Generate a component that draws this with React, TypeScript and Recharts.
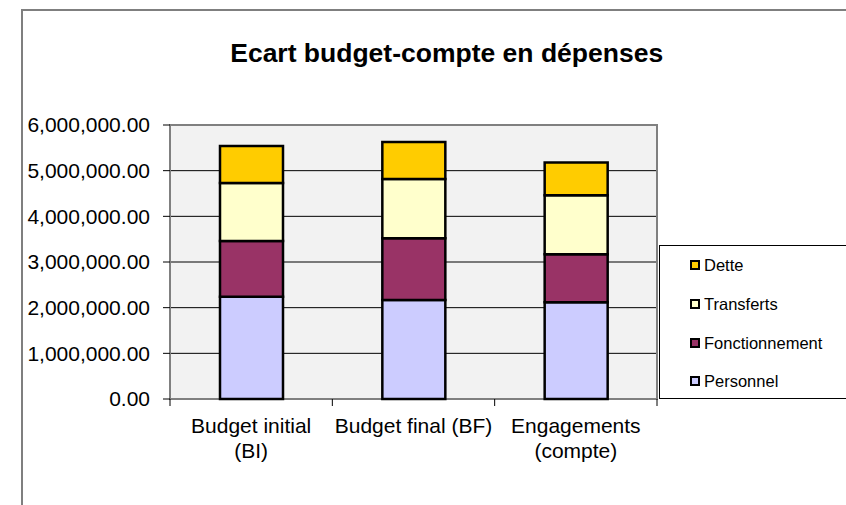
import React from "react";
import {
  BarChart,
  Bar,
  XAxis,
  YAxis,
  CartesianGrid,
  Legend,
  ReferenceArea,
} from "recharts";

const categories = ["Budget initial (BI)", "Budget final (BF)", "Engagements (compte)"];
const categoryLines = [["Budget initial", "(BI)"], ["Budget final (BF)"], ["Engagements", "(compte)"]];
const personnel = [2240000, 2170000, 2120000];
const fonctionnement = [1220000, 1350000, 1050000];
const transferts = [1270000, 1300000, 1290000];
const dette = [810000, 810000, 720000];
const yTicks = [0, 1000000, 2000000, 3000000, 4000000, 5000000, 6000000];

const title = "Ecart budget-compte en dépenses";

const series = [
  { key: "personnel", name: "Personnel", color: "#CCCCFF", values: personnel },
  { key: "fonctionnement", name: "Fonctionnement", color: "#993366", values: fonctionnement },
  { key: "transferts", name: "Transferts", color: "#FFFFCC", values: transferts },
  { key: "dette", name: "Dette", color: "#FFCC00", values: dette },
];

const data = categories.map((c, i) => {
  const row: Record<string, any> = { category: c };
  series.forEach((s) => {
    row[s.key] = s.values[i];
  });
  return row;
});

const FONT = "Arial, 'Liberation Sans', sans-serif";
const PLOT_LEFT = 170;
const PLOT_RIGHT = 657;
const PLOT_TOP = 125;
const PLOT_BOTTOM = 399;
const W = 846;
const H = 505;
const Y_AXIS_W = 150;
const X_AXIS_H = 70;
const BAND = (PLOT_RIGHT - PLOT_LEFT) / categories.length;

const fmt = (v: number) =>
  v.toLocaleString("en-US", { minimumFractionDigits: 2, maximumFractionDigits: 2 });

const XTick = (props: any) => {
  const { x, y, payload } = props;
  const idx = categories.indexOf(payload.value);
  const lines = categoryLines[idx] || [String(payload.value)];
  return (
    <g>
      <line x1={x - BAND / 2} x2={x - BAND / 2} y1={y} y2={y + 7} stroke="#000" strokeWidth={1} />
      {idx === categories.length - 1 && (
        <line x1={x + BAND / 2} x2={x + BAND / 2} y1={y} y2={y + 7} stroke="#000" strokeWidth={1} />
      )}
      {lines.map((l, i) => (
        <text
          key={i}
          x={x}
          y={y + 34 + i * 25}
          textAnchor="middle"
          fontSize={21}
          fontFamily={FONT}
          fill="#000"
        >
          {l}
        </text>
      ))}
    </g>
  );
};

const renderLegend = () => {
  const items = [...series].reverse();
  return (
    <div
      style={{
        position: "relative",
        width: 200,
        height: 154,
        border: "1px solid #000",
        background: "#fff",
        boxSizing: "border-box",
        fontFamily: FONT,
      }}
    >
      {items.map((s, i) => (
        <div
          key={s.key}
          style={{
            position: "absolute",
            left: 30,
            top: 19 + i * 38.8 - 10,
            height: 20,
            display: "flex",
            alignItems: "center",
            whiteSpace: "nowrap",
          }}
        >
          <span
            style={{
              display: "inline-block",
              width: 10,
              height: 10,
              boxSizing: "border-box",
              border: "2px solid #000",
              background: s.color,
              marginRight: 4,
            }}
          />
          <span style={{ fontSize: 16.5, color: "#000", lineHeight: "20px" }}>{s.name}</span>
        </div>
      ))}
    </div>
  );
};

export default function App() {
  return (
    <div
      style={{
        position: "absolute",
        left: 0,
        top: 0,
        width: W,
        height: H,
        overflow: "hidden",
        background: "#fff",
        fontFamily: FONT,
      }}
    >
      <div
        style={{
          position: "absolute",
          left: 21,
          top: 9,
          width: 1000,
          height: 1000,
          border: "2px solid #7f7f7f",
        }}
      />
      <svg
        width={W}
        height={H}
        style={{ position: "absolute", left: 0, top: 0, pointerEvents: "none" }}
      >
        <text
          x={446.7}
          y={62}
          textAnchor="middle"
          fontSize={26.5}
          fontWeight="bold"
          fontFamily={FONT}
          fill="#000"
        >
          {title}
        </text>
      </svg>
      <div style={{ position: "absolute", left: 0, top: 0 }}>
        <BarChart
          width={W}
          height={H}
          data={data}
          margin={{
            top: PLOT_TOP,
            right: W - PLOT_RIGHT,
            bottom: H - PLOT_BOTTOM - X_AXIS_H,
            left: PLOT_LEFT - Y_AXIS_W,
          }}
          barCategoryGap={0}
        >
          <CartesianGrid vertical={false} stroke="#000" strokeWidth={1} fill="#f2f2f2" />
          <XAxis
            dataKey="category"
            height={X_AXIS_H}
            axisLine={false}
            tickLine={false}
            tickSize={0}
            tickMargin={0}
            interval={0}
            tick={<XTick />}
          />
          <YAxis
            width={Y_AXIS_W}
            domain={[0, 6000000]}
            ticks={yTicks}
            interval={0}
            axisLine={false}
            tickLine={{ stroke: "#000", strokeWidth: 1 }}
            tickSize={7}
            tickMargin={13}
            tickFormatter={fmt}
            tick={{ fontSize: 21, fontFamily: FONT, fill: "#000" }}
          />
          {series.map((s) => (
            <Bar
              key={s.key}
              dataKey={s.key}
              name={s.name}
              stackId="a"
              fill={s.color}
              stroke="#000"
              strokeWidth={2.5}
              barSize={63}
              isAnimationActive={false}
            />
          ))}
          <ReferenceArea
            y1={0}
            y2={6000000}
            fill="none"
            fillOpacity={0}
            stroke="#808080"
            strokeWidth={2}
            ifOverflow="visible"
          />
          <Legend
            layout="horizontal"
            verticalAlign="middle"
            align="center"
            content={renderLegend}
            wrapperStyle={{ position: "absolute", left: 659, top: 245, width: 200, height: 154 }}
          />
        </BarChart>
      </div>
    </div>
  );
}
